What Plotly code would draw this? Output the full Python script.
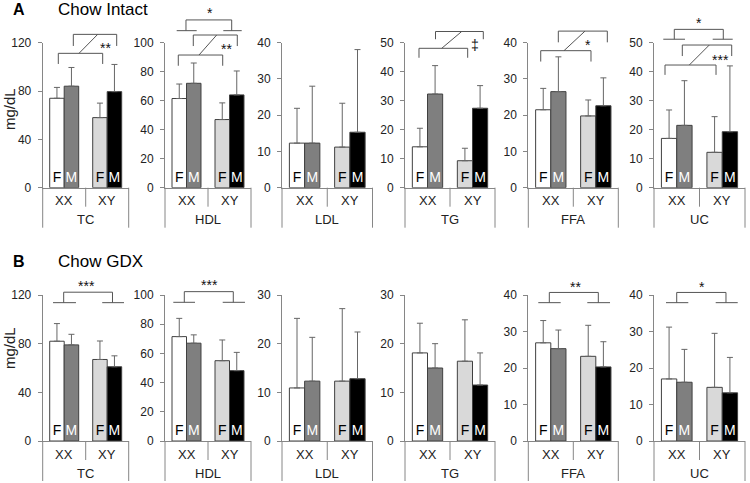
import plotly.graph_objects as go

W, H = 750, 483

lipids = ["TC", "HDL", "LDL", "TG", "FFA", "UC"]
genotypes = ["XX", "XY"]
sex_labels = ["F", "M", "F", "M"]
bar_colors = ["#ffffff", "#7f7f7f", "#d9d9d9", "#000000"]
text_colors = ["#000000", "#ffffff", "#000000", "#ffffff"]

# Bar order in each panel: XX-F, XX-M, XY-F, XY-M  (mg/dL, mean and upper error)
# Chow Intact
intact_TC = [74, 84, 58, 79.5];     intact_TC_err = [9, 15.5, 12, 22.5]
intact_HDL = [61.5, 72, 47, 64];    intact_HDL_err = [10, 14, 11.5, 16.5]
intact_LDL = [12.3, 12.3, 11.2, 15.3]; intact_LDL_err = [9.6, 15.7, 12.1, 22.8]
intact_TG = [14.1, 32.3, 9.3, 27.4];   intact_TG_err = [6.4, 9.8, 4.3, 7.8]
intact_FFA = [21.5, 26.5, 19.8, 22.6]; intact_FFA_err = [5.9, 9.6, 4.4, 7.7]
intact_UC = [17, 21.5, 12.2, 19.3];    intact_UC_err = [9.8, 15.4, 12.3, 22.7]
# Chow GDX
gdx_TC = [82, 79, 67, 61];          gdx_TC_err = [14.5, 8.7, 15.2, 9]
gdx_HDL = [71.5, 67, 55, 48.2];     gdx_HDL_err = [12.5, 5.7, 14.2, 12.5]
gdx_LDL = [10.9, 12.3, 12.3, 12.8]; gdx_LDL_err = [14.3, 9, 14.9, 9.6]
gdx_TG = [18.1, 15, 16.4, 11.5];    gdx_TG_err = [6.1, 5, 8.5, 6.6]
gdx_FFA = [26.9, 25.3, 23.2, 20.3]; gdx_FFA_err = [6.1, 5.1, 8.5, 6.9]
gdx_UC = [17, 16.1, 14.7, 13.2];    gdx_UC_err = [14.2, 9, 14.8, 9.7]

intact_ymax = [120, 100, 40, 50, 40, 50]
gdx_ymax = [120, 100, 30, 30, 40, 40]
dticks = [40, 20, 10, 10, 10, 10]

rows = [
    dict(title="Chow Intact", letter="A",
         means=[intact_TC, intact_HDL, intact_LDL, intact_TG, intact_FFA, intact_UC],
         errs=[intact_TC_err, intact_HDL_err, intact_LDL_err, intact_TG_err, intact_FFA_err, intact_UC_err],
         ymax=intact_ymax),
    dict(title="Chow GDX", letter="B",
         means=[gdx_TC, gdx_HDL, gdx_LDL, gdx_TG, gdx_FFA, gdx_UC],
         errs=[gdx_TC_err, gdx_HDL_err, gdx_LDL_err, gdx_TG_err, gdx_FFA_err, gdx_UC_err],
         ymax=gdx_ymax),
]

# significance brackets (x in category units 0..2, y in mg/dL)
brackets = {
    (0, 0): [("inter", (0.363, 1.395, 111.2, 102.4), (0.712, 1.721, 126.9, 117.3), (0.844, 1.279), (1.472, 115.4, "**"))],
    (0, 1): [("main", 108.3, (0.272, 0.737), (1.356, 1.784), (0.488, 1.551), 115.7, (1.047, 120.3, "*")),
             ("inter", (0.309, 1.342, 91.5, 84.1), (0.658, 1.681, 105.3, 97.7), (0.791, 1.202), (1.419, 95.4, "**"))],
    (0, 3): [("inter", (0.311, 1.393, 48.07, 44.8), (0.678, 1.74, 53.86, 51.2), (0.816, 1.26), (1.556, 49.2, "‡"))],
    (0, 4): [("inter", (0.276, 1.393, 37.8, 34.8), (0.667, 1.756, 43.2, 40.1), (0.793, 1.26), (1.333, 39.4, "*"))],
    (0, 5): [("main", 51.2, (0.204, 0.681), (1.29, 1.73), (0.446, 1.523), 54.6, (0.996, 56.9, "*")),
             ("inter", (0.242, 1.363, 42.3, 38.9), (0.622, 1.708, 49.2, 45.4), (0.776, 1.215), (1.451, 44, "***"))],
    (1, 0): [("main", 113.7, (0.24, 0.774), (1.384, 1.891), (0.488, 1.623), 122.3, (1.007, 127.8, "***"))],
    (1, 1): [("main", 95, (0.193, 0.698), (1.342, 1.86), (0.449, 1.588), 102.3, (1.03, 106.8, "***"))],
    (1, 4): [("main", 37.9, (0.222, 0.72), (1.311, 1.816), (0.467, 1.556), 40.7, (1.038, 42.3, "**"))],
    (1, 5): [("main", 37.9, (0.264, 0.754), (1.356, 1.84), (0.499, 1.582), 40.7, (1.048, 42.1, "*"))],
}

col_px = [(42.7, 128.7), (165, 251), (282, 372.5), (405, 495), (528.3, 618.3), (654, 745)]
row_px = [(42.7, 187.7), (295, 441)]

AX = "#868686"
BR = "#555555"
FONT = "Liberation Sans, Arial, sans-serif"
bar_w = 0.337

fig = go.Figure()
layout = dict(width=W, height=H, margin=dict(l=0, r=0, t=0, b=0, pad=0, autoexpand=False),
              paper_bgcolor="white", plot_bgcolor="white", showlegend=False,
              font=dict(family=FONT, size=12, color="#222"))
shapes, annots = [], []

for r, row in enumerate(rows):
    ytop, ybot = row_px[r]
    hpx = ybot - ytop
    for c, lip in enumerate(lipids):
        n = r * 6 + c + 1
        xr = "x" if n == 1 else f"x{n}"
        yr = "y" if n == 1 else f"y{n}"
        ymax = row["ymax"][c]
        x0p, x1p = col_px[c]
        layout["xaxis" if n == 1 else f"xaxis{n}"] = dict(
            domain=[x0p / W, x1p / W], range=[0, 2], anchor=yr, automargin=False,
            showline=True, linecolor=AX, linewidth=1, showgrid=False,
            zeroline=False, showticklabels=False, ticks="", fixedrange=True)
        layout["yaxis" if n == 1 else f"yaxis{n}"] = dict(
            domain=[1 - ybot / H, 1 - ytop / H], range=[0, ymax], anchor=xr,
            automargin=False, tick0=0, dtick=dticks[c], ticks="outside", ticklen=4,
            tickcolor=AX, ticklabelstandoff=4,
            showline=True, linecolor=AX, linewidth=1, showgrid=False,
            zeroline=False, tickfont=dict(size=12, color="#222"), fixedrange=True)

        xpos = []
        for g in range(len(genotypes)):
            for s in (-1, 1):
                xpos.append(g + 0.5 + s * bar_w / 2)
        means = row["means"][c]
        errs = row["errs"][c]
        fig.add_trace(go.Bar(
            x=xpos, y=means, width=bar_w, xaxis=xr, yaxis=yr,
            marker=dict(color=bar_colors, line=dict(color="#404040", width=1)),
            error_y=dict(type="data", symmetric=False, array=errs,
                         arrayminus=[0] * len(errs), color="#666666",
                         thickness=1, width=3),
            text=sex_labels, textposition="inside", insidetextanchor="start",
            insidetextfont=dict(color=text_colors, size=14, family=FONT),
            constraintext="none", cliponaxis=False, hoverinfo="skip"))

        xd = f"{xr} domain"
        yd = f"{yr} domain"

        def ln(xa, ya, xb, yb, color=AX, data=True):
            if data:
                xa, xb = xa / 2, xb / 2
                ya, yb = ya / ymax, yb / ymax
            shapes.append(dict(type="line", xref=xd, yref=yd, x0=xa, y0=ya,
                               x1=xb, y1=yb, line=dict(color=color, width=1)))

        sep = 19 / hpx
        full = 40 / hpx
        ln(0, 0, 0, -full, data=False)
        ln(1, 0, 1, -full, data=False)
        ln(0.5, 0, 0.5, -sep, data=False)
        for g, gname in enumerate(genotypes):
            annots.append(dict(text=gname, xref=xr, yref=yd, x=g + 0.5, y=-13 / hpx,
                               showarrow=False, xanchor="center", yanchor="middle",
                               font=dict(size=13, color="#222")))
        annots.append(dict(text=lip, xref=xr, yref=yd, x=1.0, y=-32 / hpx,
                           showarrow=False, xanchor="center", yanchor="middle",
                           font=dict(size=13, color="#222")))

        for b in brackets.get((r, c), []):
            if b[0] == "inter":
                _, A, B, dg, lab = b
                for (bx1, bx2, by, byb) in (A, B):
                    ln(bx1, by, bx2, by, BR)
                    ln(bx1, by, bx1, byb, BR)
                    ln(bx2, by, bx2, byb, BR)
                ln(dg[0], A[2], dg[1], B[2], BR)
            else:
                _, by, lp, rp, vv, ytp, lab = b
                ln(lp[0], by, lp[1], by, BR)
                ln(rp[0], by, rp[1], by, BR)
                ln(vv[0], by, vv[0], ytp, BR)
                ln(vv[1], by, vv[1], ytp, BR)
                ln(vv[0], ytp, vv[1], ytp, BR)
            lx, ly, lt = lab
            annots.append(dict(text=lt, xref=xd, yref=yd, x=lx / 2, y=ly / ymax,
                               showarrow=False, xanchor="center", yanchor="middle",
                               font=dict(size=14, color="#111111")))

    tcy = [10, 261][r]
    annots.append(dict(text=f"<b>{row['letter']}</b>", xref="paper", yref="paper",
                       x=11 / W, y=1 - tcy / H, xanchor="left", yanchor="middle",
                       showarrow=False, font=dict(size=16, color="#000")))
    annots.append(dict(text=row["title"], xref="paper", yref="paper",
                       x=56 / W, y=1 - tcy / H, xanchor="left", yanchor="middle",
                       showarrow=False, font=dict(size=17, color="#000")))
    annots.append(dict(text="mg/dL", xref="paper", yref="paper",
                       x=9 / W, y=1 - [109, 348][r] / H, xanchor="center", yanchor="middle",
                       textangle=-90, showarrow=False, font=dict(size=15, color="#222")))

layout["shapes"] = shapes
layout["annotations"] = annots
fig.update_layout(**layout)
fig.write_html("out.html", config={"displayModeBar": False, "staticPlot": True},
               post_script="document.body.style.margin='0px';")
